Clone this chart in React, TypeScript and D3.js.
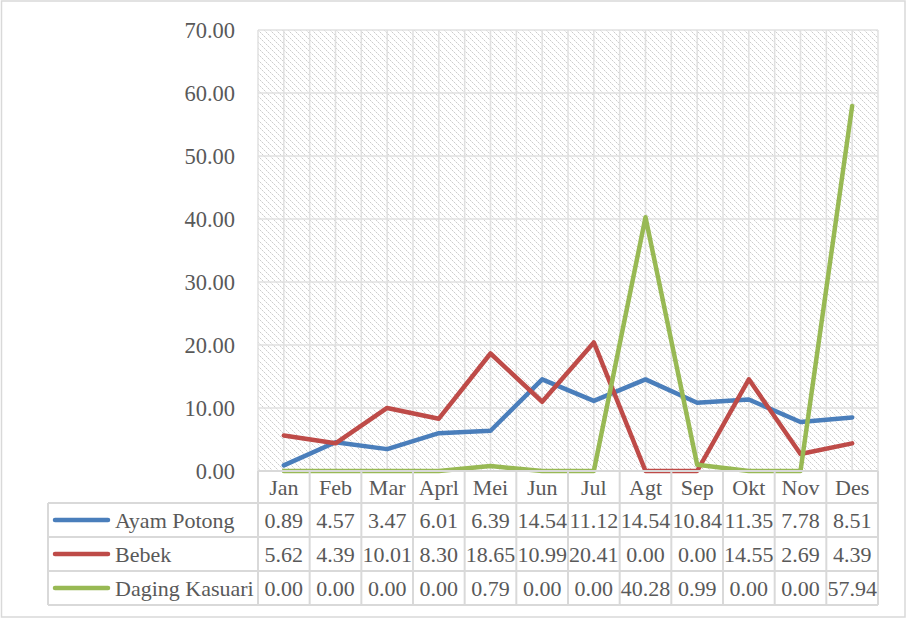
import React from "react";
import * as d3 from "d3";

const categories = ["Jan", "Feb", "Mar", "Aprl", "Mei", "Jun", "Jul", "Agt", "Sep", "Okt", "Nov", "Des"];
const seriesNames = ["Ayam Potong", "Bebek", "Daging Kasuari"];
const ayamPotong = [0.89, 4.57, 3.47, 6.01, 6.39, 14.54, 11.12, 14.54, 10.84, 11.35, 7.78, 8.51];
const bebek = [5.62, 4.39, 10.01, 8.3, 18.65, 10.99, 20.41, 0.0, 0.0, 14.55, 2.69, 4.39];
const dagingKasuari = [0.0, 0.0, 0.0, 0.0, 0.79, 0.0, 0.0, 40.28, 0.99, 0.0, 0.0, 57.94];
const yTicks = [0, 10, 20, 30, 40, 50, 60, 70];
const colors = ["#4a7ebb", "#be4b48", "#98b954"];

const W = 908;
const H = 619;
const plot = { left: 258, right: 878, top: 30, bottom: 471 };
const tableLeft = 48;
const headerBottom = 503;
const rowH = 34;
const font = "'Liberation Serif', serif";
const textColor = "#595959";
const gridColor = "#e0e0e0";

export default function App() {
  const data = [ayamPotong, bebek, dagingKasuari];
  const x = d3.scaleBand<string>().domain(categories).range([plot.left, plot.right]).padding(0);
  const y = d3.scaleLinear().domain([0, 70]).range([plot.bottom, plot.top]);
  const bw = x.bandwidth();
  const cx = (c: string) => (x(c) as number) + bw / 2;
  const line = d3
    .line<number>()
    .x((_, i) => cx(categories[i]))
    .y((v) => y(v))
    .curve(d3.curveLinear);

  const vGrid: number[] = [];
  categories.forEach((c) => {
    vGrid.push(x(c) as number);
    vGrid.push(cx(c));
  });
  vGrid.push(plot.right);

  const tableBottom = headerBottom + rowH * 3;

  return (
    <svg
      width={W}
      height={H}
      style={{ position: "absolute", left: 0, top: 0, background: "#fff" }}
      fontFamily={font}
    >
      <defs>
        <pattern id="hatch" width="6" height="6" patternUnits="userSpaceOnUse">
          <rect width="6" height="6" fill="#ffffff" />
          <rect x="0" y="0" width="1" height="1" fill="#cccccc" />
          <rect x="2" y="2" width="1" height="1" fill="#cccccc" />
          <rect x="4" y="4" width="1" height="1" fill="#cccccc" />
          <rect x="1" y="1" width="1" height="1" fill="#e8e8e8" />
          <rect x="3" y="3" width="1" height="1" fill="#e8e8e8" />
          <rect x="5" y="5" width="1" height="1" fill="#e8e8e8" />
        </pattern>
      </defs>
      <rect x={1.5} y={1} width={903.5} height={616} fill="#fff" stroke="#d9d9d9" strokeWidth={1.5} />
      <rect
        x={plot.left}
        y={plot.top}
        width={plot.right - plot.left}
        height={plot.bottom - plot.top}
        fill="url(#hatch)"
      />
      {yTicks.map((t) => (
        <line key={"h" + t} x1={plot.left} x2={plot.right} y1={y(t)} y2={y(t)} stroke={gridColor} strokeWidth={1.5} />
      ))}
      {vGrid.map((gx, i) => (
        <line key={"v" + i} x1={gx} x2={gx} y1={plot.top} y2={plot.bottom} stroke={gridColor} strokeWidth={1.5} />
      ))}
      {yTicks.map((t) => (
        <text
          key={"yt" + t}
          x={235}
          y={y(t)}
          dy="0.35em"
          textAnchor="end"
          fontSize={22.5}
          fill={textColor}
        >
          {t.toFixed(2)}
        </text>
      ))}
      {data.map((d, i) => (
        <path
          key={"s" + i}
          d={line(d) || ""}
          fill="none"
          stroke={colors[i]}
          strokeWidth={4.5}
          strokeLinejoin="round"
          strokeLinecap="round"
        />
      ))}
      {/* data table */}
      <g stroke="#d9d9d9" strokeWidth={2} fill="none">
        <line x1={plot.left} x2={plot.right} y1={plot.bottom} y2={plot.bottom} />
        {[0, 1, 2, 3].map((r) => (
          <line key={"tr" + r} x1={tableLeft} x2={plot.right} y1={headerBottom + r * rowH} y2={headerBottom + r * rowH} />
        ))}
        <line x1={tableLeft} x2={tableLeft} y1={headerBottom} y2={tableBottom} />
        {categories.map((c) => (
          <line key={"tc" + c} x1={x(c) as number} x2={x(c) as number} y1={plot.bottom} y2={tableBottom} />
        ))}
        <line x1={plot.right} x2={plot.right} y1={plot.bottom} y2={tableBottom} />
      </g>
      {categories.map((c) => (
        <text key={"cl" + c} x={cx(c)} y={(plot.bottom + headerBottom) / 2} dy="0.35em" textAnchor="middle" fontSize={22} fill={textColor}>
          {c}
        </text>
      ))}
      {data.map((d, r) => (
        <g key={"row" + r}>
          <line
            x1={55}
            x2={108}
            y1={headerBottom + r * rowH + rowH / 2}
            y2={headerBottom + r * rowH + rowH / 2}
            stroke={colors[r]}
            strokeWidth={4.5}
            strokeLinecap="round"
          />
          <text x={115} y={headerBottom + r * rowH + rowH / 2} dy="0.35em" fontSize={22} fill={textColor}>
            {seriesNames[r]}
          </text>
          {d.map((v, i) => (
            <text
              key={i}
              x={cx(categories[i])}
              y={headerBottom + r * rowH + rowH / 2}
              dy="0.35em"
              textAnchor="middle"
              fontSize={22}
              fill={textColor}
            >
              {v.toFixed(2)}
            </text>
          ))}
        </g>
      ))}
    </svg>
  );
}
